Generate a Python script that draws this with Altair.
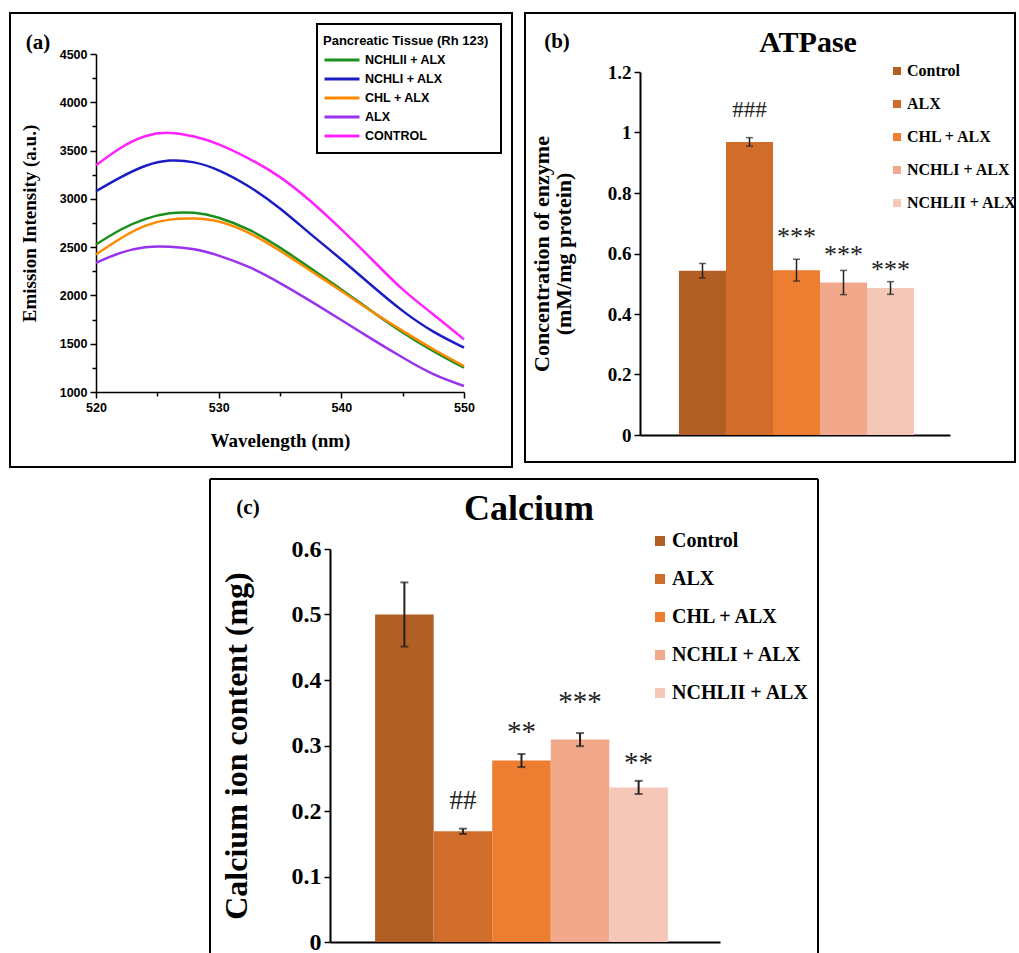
import altair as alt
import pandas as pd

SERIF = "Liberation Serif"
SANS = "Liberation Sans"

# ---------------- Panel (a): emission spectra ----------------
wavelength = [520, 522, 524, 526, 528, 530, 532.5, 535, 537.5, 540, 542.5, 545, 547.5, 550]
nchlii_a = [2527, 2680, 2790, 2850, 2855, 2805, 2678, 2495, 2280, 2062, 1835, 1617, 1424, 1252]
nchli_a = [3079, 3222, 3340, 3396, 3378, 3295, 3125, 2900, 2635, 2372, 2100, 1840, 1625, 1459]
chl_a = [2424, 2590, 2720, 2785, 2796, 2765, 2645, 2462, 2255, 2045, 1833, 1633, 1443, 1269]
alx_a = [2338, 2441, 2500, 2505, 2478, 2412, 2292, 2128, 1941, 1745, 1548, 1357, 1185, 1062]
control_a = [3348, 3527, 3648, 3683, 3645, 3565, 3415, 3225, 2975, 2683, 2372, 2062, 1803, 1545]
series_a = ["NCHLII + ALX", "NCHLI + ALX", "CHL + ALX", "ALX", "CONTROL"]
colors_a = ["#1b8f1b", "#1c1cc4", "#ff8a00", "#9933ee", "#ff22ff"]
y_ticks_a = list(range(1000, 4501, 250))
x_ticks_a = [520, 525, 530, 535, 540, 545, 550]

# ---------------- Panels (b) and (c): bar charts ----------------
groups = ["Control", "ALX", "CHL + ALX", "NCHLI + ALX", "NCHLII + ALX"]
bar_colors = ["#b15f24", "#d06d2a", "#ed7d31", "#f1a88b", "#f4c7b7"]

atpase = [0.543, 0.969, 0.545, 0.504, 0.486]
atpase_err = [0.024, 0.014, 0.036, 0.040, 0.021]
atpase_sig = ["", "###", "***", "***", "***"]
atpase_sig_y = [0, 1.074, 0.678, 0.618, 0.569]
atpase_ticks = [0, 0.2, 0.4, 0.6, 0.8, 1.0, 1.2]

calcium = [0.500, 0.169, 0.277, 0.309, 0.236]
calcium_err = [0.049, 0.004, 0.010, 0.010, 0.010]
calcium_sig = ["", "##", "**", "***", "**"]
calcium_sig_y = [0, 0.215, 0.333, 0.379, 0.285]
calcium_ticks = [0, 0.1, 0.2, 0.3, 0.4, 0.5, 0.6]

one = pd.DataFrame({"k": [0]})

# ---------- build (a) ----------
rows = []
for name, vals in zip(series_a, [nchlii_a, nchli_a, chl_a, alx_a, control_a]):
    for w, v in zip(wavelength, vals):
        rows.append({"wavelength": w, "intensity": v, "series": name})
df_a = pd.DataFrame(rows)

lines = alt.Chart(df_a).mark_line(strokeWidth=2.5, interpolate="natural").encode(
    x=alt.X("wavelength:Q",
            scale=alt.Scale(domain=[520, 550], range=[86, 454], nice=False, zero=False),
            axis=alt.Axis(values=x_ticks_a, labelExpr="datum.value % 10 == 0 ? datum.label : ''",
                          offset=-75, grid=False, domainColor="black", domainWidth=1.5,
                          tickColor="black", tickWidth=1.5,
                          tickSize={"condition": {"test": "datum.value % 10 != 0", "value": 4}, "value": 6},
                          labelFont=SANS, labelFontWeight="bold", labelFontSize=12.5, labelColor="black",
                          labelPadding=3, labelFlush=False,
                          title="Wavelength (nm)", titleFont=SERIF, titleFontSize=19,
                          titleFontWeight="bold", titleColor="black", titlePadding=18)),
    y=alt.Y("intensity:Q",
            scale=alt.Scale(domain=[1000, 4500], range=[379, 41], nice=False, zero=False),
            axis=alt.Axis(values=y_ticks_a, format="d",
                          labelExpr="datum.value % 500 == 0 ? datum.label : ''",
                          offset=-86, grid=False, domainColor="black", domainWidth=1.5,
                          tickColor="black", tickWidth=1.5,
                          tickSize={"condition": {"test": "datum.value % 500 != 0", "value": 4}, "value": 6},
                          labelFont=SANS, labelFontWeight="bold", labelFontSize=12.5, labelColor="black",
                          labelPadding=3, labelFlush=False,
                          title="Emission Intensity (a.u.)", titleFont=SERIF, titleFontSize=19,
                          titleFontWeight="bold", titleColor="black", titlePadding=20)),
    color=alt.Color("series:N", scale=alt.Scale(domain=series_a, range=colors_a),
                    legend=alt.Legend(orient="none", legendX=313, legendY=22,
                                      title="Pancreatic Tissue (Rh 123)", titleFont=SANS,
                                      titleFontSize=13, titleFontWeight="bold", titleColor="black",
                                      titlePadding=5, symbolType="stroke", symbolSize=1225,
                                      symbolStrokeWidth=3, labelFont=SANS, labelFontSize=12.5,
                                      labelFontWeight="bold", labelColor="black", rowPadding=5,
                                      clipHeight=14, labelOffset=4, padding=0)),
    detail="series:N",
)

legend_box_a = alt.Chart(one).mark_rect(fill="transparent", stroke="black", strokeWidth=2).encode(
    x=alt.value(307), x2=alt.value(491), y=alt.value(11), y2=alt.value(140))
tag_a = alt.Chart(one).mark_text(text="(a)", font=SERIF, fontSize=21, fontWeight="bold",
                                 color="black").encode(x=alt.value(28), y=alt.value(30))

panel_a = alt.layer(lines, legend_box_a, tag_a).properties(
    width=502, height=454, view=alt.ViewBackground(stroke="black", strokeWidth=2))


# ---------- bar panel builder ----------
def bar_panel(vals, errs, sigs, sig_ys, ticks, ymax, width, height, xr, po, align, yr,
              ytitle, title_txt, tag_txt, geo):
    df = pd.DataFrame({"group": groups, "value": vals,
                       "lo": [v - e for v, e in zip(vals, errs)],
                       "hi": [v + e for v, e in zip(vals, errs)],
                       "sig": sigs, "sig_y": sig_ys})
    xenc = alt.X("group:N", sort=groups,
                 scale=alt.Scale(domain=groups, range=xr, paddingInner=0, paddingOuter=po, align=align),
                 axis=alt.Axis(labels=False, ticks=False, title=None, domainColor="black",
                               domainWidth=2, offset=yr[0] - height, grid=False))
    yaxis = alt.Axis(values=ticks, format="~g", offset=-xr[0], grid=False,
                     domainColor="black", domainWidth=2, tickColor="black", tickWidth=1.5,
                     tickSize=6, labelFont=SERIF, labelFontWeight="bold",
                     labelFontSize=geo["tick_fs"], labelColor="black", labelPadding=3,
                     labelFlush=False, title=ytitle, titleFont=SERIF,
                     titleFontSize=geo["ytitle_fs"], titleFontWeight="bold", titleColor="black",
                     titlePadding=geo["ytitle_pad"], titleLineHeight=geo["ytitle_lh"])
    yscale = alt.Scale(domain=[0, ymax], range=yr, nice=False)
    bars = alt.Chart(df).mark_bar().encode(
        x=xenc,
        y=alt.Y("value:Q", scale=yscale, axis=yaxis),
        color=alt.Color("group:N", scale=alt.Scale(domain=groups, range=bar_colors),
                        legend=alt.Legend(orient="none", legendX=geo["lx"], legendY=geo["ly"],
                                          title=None, symbolType="square", symbolSize=geo["sym"],
                                          symbolStrokeWidth=0, labelFont=SERIF,
                                          labelFontWeight="bold", labelFontSize=geo["leg_fs"],
                                          labelColor="black", rowPadding=geo["leg_rp"],
                                          labelOffset=2, padding=0)),
    )
    err = alt.Chart(df).mark_rule(color="#222", strokeWidth=geo["ew"]).encode(
        x=xenc, y=alt.Y("lo:Q", scale=yscale, axis=yaxis), y2="hi:Q")
    cap_lo = alt.Chart(df).mark_tick(color="#222", thickness=geo["ew"], size=geo["cap"]).encode(
        x=xenc, y=alt.Y("lo:Q", scale=yscale, axis=yaxis))
    cap_hi = alt.Chart(df).mark_tick(color="#222", thickness=geo["ew"], size=geo["cap"]).encode(
        x=xenc, y=alt.Y("hi:Q", scale=yscale, axis=yaxis))
    df_hash = df[df["sig"].str.startswith("#")]
    df_star = df[df["sig"].str.startswith("*")]
    hash_t = alt.Chart(df_hash).mark_text(font=SERIF, fontSize=geo["hash_fs"], color="#222",
                                          baseline="middle").encode(
        x=xenc, y=alt.Y("sig_y:Q", scale=yscale, axis=yaxis), text="sig:N")
    star_t = alt.Chart(df_star).mark_text(font=SERIF, fontSize=geo["star_fs"], color="#222",
                                          baseline="middle", dy=geo["star_dy"]).encode(
        x=xenc, y=alt.Y("sig_y:Q", scale=yscale, axis=yaxis), text="sig:N")
    title_t = alt.Chart(one).mark_text(text=title_txt, font=SERIF, fontSize=geo["title_fs"],
                                       fontWeight="bold", color="black").encode(
        x=alt.value(geo["tx"]), y=alt.value(geo["ty"]))
    tag_t = alt.Chart(one).mark_text(text=tag_txt, font=SERIF, fontSize=21, fontWeight="bold",
                                     color="black").encode(
        x=alt.value(geo["gx"]), y=alt.value(geo["gy"]))
    return [bars, err, cap_lo, cap_hi, hash_t, star_t, title_t, tag_t]


geo_b = dict(tick_fs=19, ytitle_fs=22, ytitle_pad=32, ytitle_lh=22, lx=364, ly=50, sym=64,
             leg_fs=16, leg_rp=17, ew=1.5, cap=7, hash_fs=23, star_fs=26, star_dy=7,
             title_fs=30, tx=283, ty=30, gx=32, gy=29)
layers_b = bar_panel(atpase, atpase_err, atpase_sig, atpase_sig_y, atpase_ticks, 1.2,
                     490, 449, [115, 425], 0.798, 0.52, [422, 59],
                     ["Concentration of enzyme", "(mM/mg protein)"], "ATPase", "(b)", geo_b)
panel_b = alt.layer(*layers_b).properties(
    width=490, height=449, view=alt.ViewBackground(stroke="black", strokeWidth=2))

geo_c = dict(tick_fs=24, ytitle_fs=32, ytitle_pad=38, ytitle_lh=32, lx=640, ly=52, sym=100,
             leg_fs=20, leg_rp=18, ew=2, cap=8, hash_fs=27, star_fs=29, star_dy=8,
             title_fs=36, tx=519, ty=30, gx=238, gy=29)
layers_c = bar_panel(calcium, calcium_err, calcium_sig, calcium_sig_y, calcium_ticks, 0.6,
                     1005, 474, [320, 710], 0.83, 0.464, [463, 70],
                     "Calcium ion content (mg)", "Calcium", "(c)", geo_c)
border_c = [
    alt.Chart(one).mark_rule(color="black", strokeWidth=2).encode(
        x=alt.value(200), y=alt.value(0), y2=alt.value(474)),
    alt.Chart(one).mark_rule(color="black", strokeWidth=2).encode(
        x=alt.value(808), y=alt.value(0), y2=alt.value(474)),
    alt.Chart(one).mark_rule(color="black", strokeWidth=2).encode(
        x=alt.value(200), x2=alt.value(808), y=alt.value(0)),
]
panel_c = alt.layer(*(layers_c + border_c)).properties(
    width=1005, height=474, view=alt.ViewBackground(stroke="transparent", strokeWidth=0))

top = alt.hconcat(panel_a, panel_b, spacing=11).resolve_scale(color="independent")
chart = alt.vconcat(top, panel_c, spacing=10).resolve_scale(color="independent").properties(
    padding={"left": 9, "top": 12, "right": 0, "bottom": 0},
    background="white",
)

chart.save("out.html", embed_options={"renderer": "svg", "actions": False})
